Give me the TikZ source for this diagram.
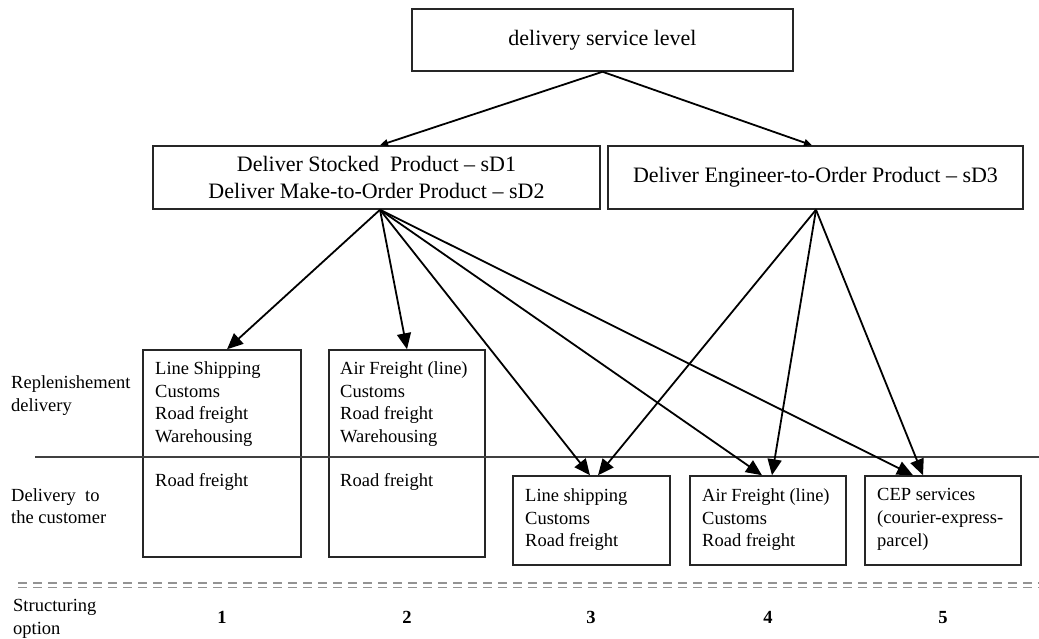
\documentclass[tikz,border=0pt]{standalone}
\usepackage{fontspec}
\setmainfont{Liberation Serif}
\usetikzlibrary{arrows.meta}
\begin{document}
\begin{tikzpicture}[x=1pt,y=-1pt,
  box/.style={draw=black!85, line width=1.5pt, inner sep=0pt},
  bigbox/.style={box, font=\fontsize{22}{27}\selectfont, align=center},
  txt/.style={anchor=north west, inner sep=0pt, align=left, font=\fontsize{18.5}{22.6}\selectfont},
  num/.style={anchor=base, inner sep=0pt, font=\fontsize{18.5}{22}\selectfont\bfseries},
  bigarr/.style={-{Triangle[length=16pt,width=14pt]}, line width=1.8pt},
  smallarr/.style={-{Triangle[length=8pt,width=7pt]}, line width=1.8pt},
  sepline/.style={draw=black!75, line width=1.4pt},
  dashline/.style={draw=gray!85, line width=1.3pt, dash pattern=on 9pt off 6pt}]
\useasboundingbox (0,0) rectangle (1039,638);

% top level boxes
\node[bigbox, minimum width=381pt, minimum height=62pt] (top) at (602.5,40) {delivery\ service\ level};
\node[bigbox, minimum width=447pt, minimum height=63pt] (sd1) at (376.5,177.5) {Deliver Stocked\ \ Product -- sD1\\Deliver Make-to-Order\ Product -- sD2};
\node[bigbox, minimum width=415pt, minimum height=63pt] (sd3) at (815.5,177.5) {Deliver Engineer-to-Order\ Product -- sD3};

% option boxes
\node[box, minimum width=158pt, minimum height=207pt] (b1) at (222,453.5) {};
\node[box, minimum width=156pt, minimum height=207pt] (b2) at (407,453.5) {};
\node[box, minimum width=157pt, minimum height=89pt] (b3) at (591.5,520.5) {};
\node[box, minimum width=156pt, minimum height=89pt] (b4) at (768,520.5) {};
\node[box, minimum width=156pt, minimum height=89pt] (b5) at (943,520.5) {};

% separator lines
\coordinate (hl) at (35,457);
\coordinate (hr) at (1039,457);
\draw[sepline] (hl) -- (hr);
\coordinate (d1l) at (18,583);
\coordinate (d1r) at (1039,583);
\coordinate (d2l) at (18,587.5);
\coordinate (d2r) at (1039,587.5);
\draw[dashline] (d1l) -- (d1r);
\draw[dashline] (d2l) -- (d2r);

% box texts
\node[txt] (t1a) at (155,361.4) {Line Shipping\\Customs\\Road freight\\Warehousing};
\node[txt] (t1b) at (155,473.4) {Road freight};
\node[txt] (t2a) at (340,361.4) {Air Freight (line)\\Customs\\Road freight\\Warehousing};
\node[txt] (t2b) at (340,473.4) {Road freight};
\node[txt] (t3) at (525,488.4) {Line shipping\\Customs\\Road freight};
\node[txt] (t4) at (702,488.4) {Air Freight (line)\\Customs\\Road freight};
\node[txt] (t5) at (877,488.4) {CEP services\\(courier-express-\\parcel)};

% left labels
\node[txt] (l1) at (11,375.4) {Replenishement\\delivery};
\node[txt] (l2) at (11,488) {Delivery\ \ to\\the customer};
\node[txt] (l3) at (13,599.5) {Structuring\\option};

% numbers
\node[num] (n1) at (222,623) {1};
\node[num] (n2) at (407,623) {2};
\node[num] (n3) at (591,623) {3};
\node[num] (n4) at (768,623) {4};
\node[num] (n5) at (943,623) {5};

% arrows
\draw[smallarr] (top.south) -- ([xshift=3.5pt]sd1.north);
\draw[smallarr] (top.south) -- ([xshift=-3.5pt]sd3.north);

\draw[bigarr] ([xshift=3.5pt]sd1.south) -- ([xshift=5pt]b1.north);
\draw[bigarr] ([xshift=3.5pt]sd1.south) -- (b2.north);
\draw[bigarr] ([xshift=3.5pt]sd1.south) -- ([xshift=-1.5pt]b3.north);
\draw[bigarr] ([xshift=3.5pt]sd1.south) -- ([xshift=-6pt]b4.north);
\draw[bigarr] ([xshift=3.5pt]sd1.south) -- ([xshift=-30pt]b5.north);

\draw[bigarr] ([xshift=0.5pt]sd3.south) -- ([xshift=6.5pt]b3.north);
\draw[bigarr] ([xshift=0.5pt]sd3.south) -- ([xshift=4pt]b4.north);
\draw[bigarr] ([xshift=0.5pt]sd3.south) -- ([xshift=-20pt]b5.north);
\end{tikzpicture}
\end{document}
